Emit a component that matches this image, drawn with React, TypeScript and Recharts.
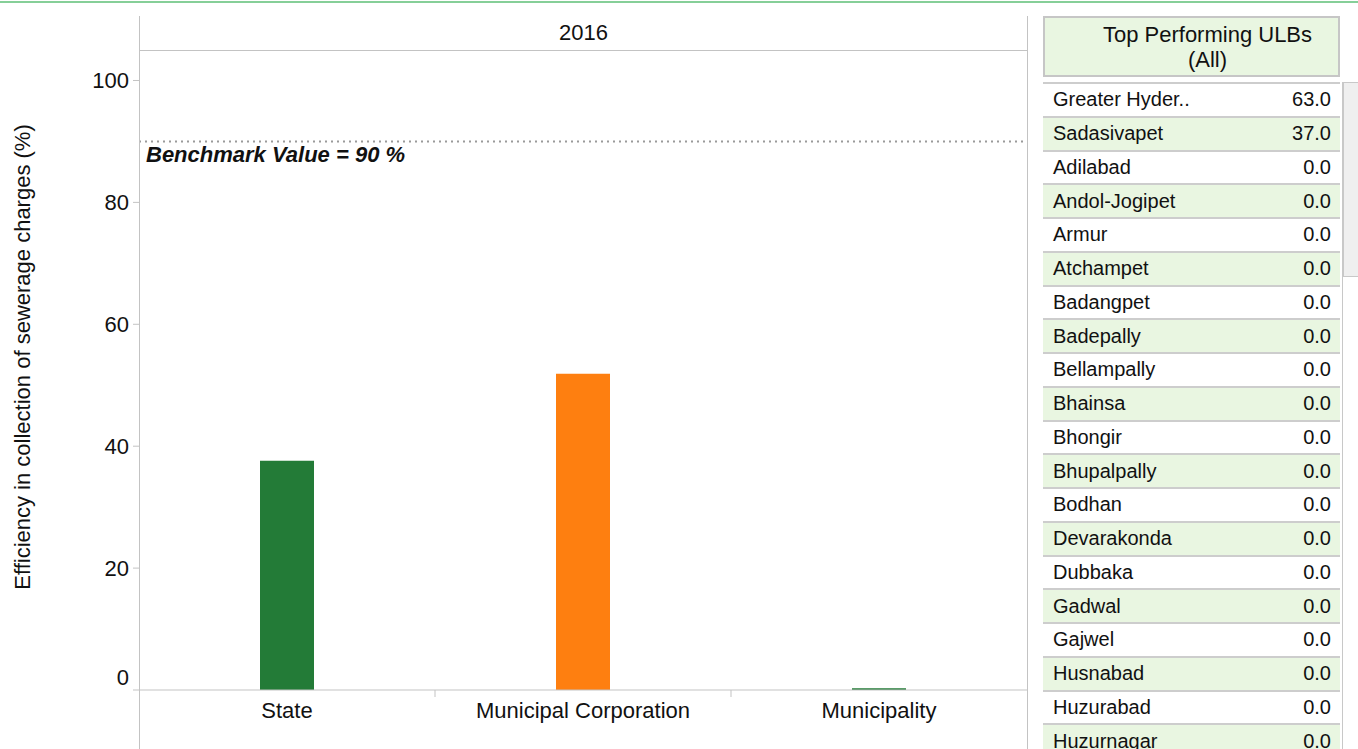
import React from 'react';
import { BarChart, Bar, XAxis, YAxis, Cell, ReferenceLine } from 'recharts';

const categories = ['State', 'Municipal Corporation', 'Municipality'];
const efficiency = [37.6, 51.9, 0.3];
const barColors = ['#237b37', '#fe7f10', '#237b37'];
const yTicks = [0, 20, 40, 60, 80, 100];
const benchmark = 90;
const yearLabel = '2016';

const ulbNames = [
  'Greater Hyder..', 'Sadasivapet', 'Adilabad', 'Andol-Jogipet', 'Armur', 'Atchampet',
  'Badangpet', 'Badepally', 'Bellampally', 'Bhainsa', 'Bhongir', 'Bhupalpally', 'Bodhan',
  'Devarakonda', 'Dubbaka', 'Gadwal', 'Gajwel', 'Husnabad', 'Huzurabad', 'Huzurnagar',
];
const ulbValues = [63, 37, 0, 0, 0, 0, 0, 0, 0, 0, 0, 0, 0, 0, 0, 0, 0, 0, 0, 0];

const FONT = '"Liberation Sans", Arial, Helvetica, sans-serif';
const AXIS = '#c3c3c3';
const FS = 22;

const data = categories.map((c, i) => ({ name: c, value: efficiency[i], color: barColors[i] }));

const CHART_W = 1030;
const CHART_H = 749;
const Y_AXIS_W = 139;
const RIGHT_M = 3;
const PLOT_W = CHART_W - Y_AXIS_W - RIGHT_M;

const XTick = (props: any) => {
  const { x, y, payload, index } = props;
  const band = PLOT_W / categories.length;
  return (
    <g>
      <text x={x} y={y + 28} textAnchor="middle" fontSize={FS} fontFamily={FONT} fill="#111">
        {payload.value}
      </text>
      {index < categories.length - 1 && (
        <line x1={x + band / 2} x2={x + band / 2} y1={y} y2={y + 7} stroke={AXIS} strokeWidth={1} />
      )}
    </g>
  );
};

const YTick = (props: any) => {
  const { x, y, payload } = props;
  const shift = payload.value === 0 ? -13 : 0;
  return (
    <text x={x} y={y + shift} dy="0.355em" textAnchor="end" fontSize={FS} fontFamily={FONT} fill="#111">
      {payload.value}
    </text>
  );
};

const YLabel = (props: any) => {
  const vb = props.viewBox || { x: 0, y: 50, width: 139, height: 640 };
  const cx = vb.x + 22;
  const cy = vb.y + vb.height / 2 - 13;
  return (
    <text
      x={cx}
      y={cy}
      transform={`rotate(-90, ${cx}, ${cy})`}
      textAnchor="middle"
      dominantBaseline="central"
      fontSize={FS}
      fontFamily={FONT}
      fill="#111"
    >
      Efficiency in collection of sewerage charges (%)
    </text>
  );
};

const BenchLabel = (props: any) => {
  const vb = props.viewBox || { x: 139, y: 141 };
  return (
    <text
      x={vb.x + 7}
      y={vb.y + 21}
      fontSize={FS}
      fontFamily={FONT}
      fontWeight="bold"
      fontStyle="italic"
      fill="#111"
    >
      {`Benchmark Value = ${benchmark} %`}
    </text>
  );
};

export default function App() {
  const rowH = 33.75;
  return (
    <div style={{ position: 'absolute', left: 0, top: 0, width: 1358, height: 749, overflow: 'hidden', background: '#fff', fontFamily: FONT }}>
      <div style={{ position: 'absolute', left: 0, top: 1, width: 1358, height: 2, background: '#86cf98' }} />

      <div style={{ position: 'absolute', left: 0, top: 0 }}>
        <BarChart
          width={CHART_W}
          height={CHART_H}
          data={data}
          margin={{ top: 50, right: RIGHT_M, bottom: 0, left: 0 }}
          barSize={54}
        >
          <XAxis
            dataKey="name"
            height={59}
            axisLine={{ stroke: AXIS, strokeWidth: 1 }}
            tickLine={false}
            tickSize={0}
            tickMargin={0}
            tick={<XTick />}
            interval={0}
          />
          <YAxis
            width={Y_AXIS_W}
            domain={[0, 105]}
            ticks={yTicks}
            axisLine={false}
            tickLine={{ stroke: AXIS }}
            tickSize={6}
            tickMargin={4}
            tick={<YTick />}
            label={<YLabel />}
          />
          <ReferenceLine
            y={benchmark}
            stroke="#9a9a9a"
            strokeWidth={2}
            strokeDasharray="2 4"
            label={<BenchLabel />}
          />
          <Bar dataKey="value" isAnimationActive={false}>
            {data.map((d, i) => (
              <Cell key={i} fill={d.color} />
            ))}
          </Bar>
        </BarChart>
      </div>

      {/* facet header and frame */}
      <div style={{ position: 'absolute', left: 139, top: 16, width: 1, height: 733, background: AXIS }} />
      <div style={{ position: 'absolute', left: 1027, top: 16, width: 1, height: 733, background: AXIS }} />
      <div style={{ position: 'absolute', left: 140, top: 16, width: 887, height: 34, borderBottom: `1px solid ${AXIS}`, display: 'flex', alignItems: 'center', justifyContent: 'center', fontSize: FS, color: '#111' }}>
        {yearLabel}
      </div>

      {/* table */}
      <div style={{ position: 'absolute', left: 1043, top: 16, width: 297, height: 61, boxSizing: 'border-box', border: '2px solid #c6c6c6', background: '#e9f6e1', display: 'flex', flexDirection: 'column', alignItems: 'center', justifyContent: 'center', paddingLeft: 32, fontSize: FS, lineHeight: '25px', color: '#111' }}>
        <div style={{ whiteSpace: 'nowrap' }}>Top Performing ULBs</div>
        <div>(All)</div>
      </div>
      {ulbNames.map((n, i) => (
        <div
          key={n}
          style={{
            position: 'absolute', left: 1043, top: 82 + i * rowH, width: 297, height: rowH,
            boxSizing: 'border-box', borderTop: '2px solid #cdcdcd',
            background: i % 2 === 1 ? '#e9f6e1' : '#fff',
            display: 'flex', alignItems: 'center', justifyContent: 'space-between',
            padding: '0 9px 0 10px', fontSize: 20, color: '#111',
          }}
        >
          <span>{n}</span>
          <span>{ulbValues[i].toFixed(1)}</span>
        </div>
      ))}
      {/* scrollbar */}
      <div style={{ position: 'absolute', left: 1342, top: 82, width: 16, height: 667, boxSizing: 'border-box', borderLeft: '1px solid #c8c8c8', background: '#fff' }} />
      <div style={{ position: 'absolute', left: 1343, top: 82, width: 16, height: 195, boxSizing: 'border-box', border: '1px solid #c8c8c8', background: '#efefef' }} />
    </div>
  );
}
